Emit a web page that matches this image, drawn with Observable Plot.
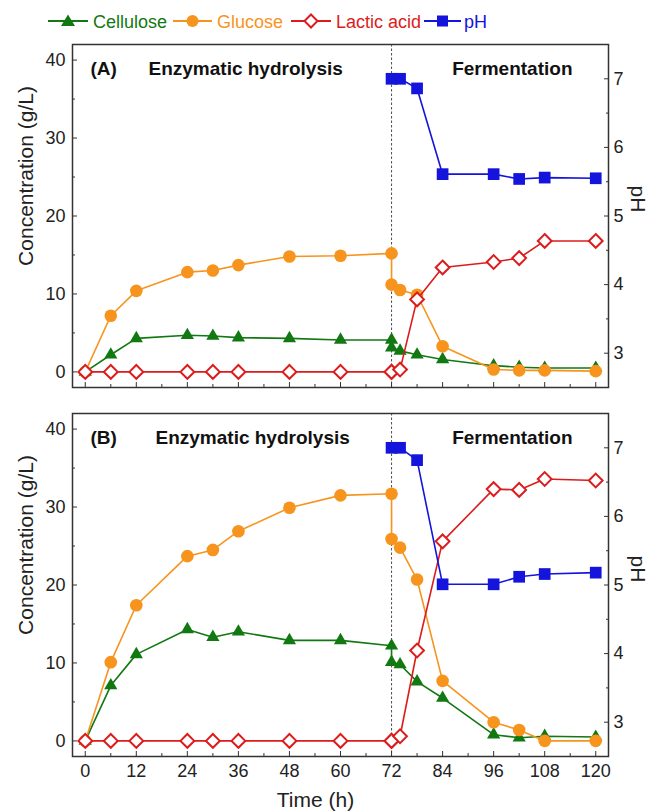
<!DOCTYPE html>
<html><head><meta charset="utf-8">
<script src="https://cdn.jsdelivr.net/npm/d3@7"></script>
<script src="https://cdn.jsdelivr.net/npm/@observablehq/plot@0.6"></script>
<style>
body{margin:0;background:#fff;font-family:"Liberation Sans",Arial,sans-serif;}
#wrap{position:relative;width:652px;height:812px;overflow:hidden;}
#legend{width:652px;height:36px;}
#pa,#pb{line-height:0;}
</style></head><body>
<div id="wrap"><div id="legend"></div><div id="pa"></div><div id="pb"></div></div>
<script>
// ---- data ----
const time = [0, 6, 12, 24, 30, 36, 48, 60, 72, 72, 74, 78, 84, 96, 102, 108, 120];
const phTime = [72, 74, 78, 84, 96, 102, 108, 120];

const cellA = [0, 2.2, 4.3, 4.7, 4.6, 4.4, 4.3, 4.1, 4.1, 3.1, 2.7, 2.2, 1.6, 0.8, 0.6, 0.5, 0.5];
const glucA = [0, 7.2, 10.4, 12.8, 13.0, 13.7, 14.8, 14.9, 15.2, 11.2, 10.5, 9.9, 3.3, 0.3, 0.2, 0.2, 0.1];
const lactA = [0, 0, 0, 0, 0, 0, 0, 0, 0, 0, 0.3, 9.3, 13.4, 14.1, 14.6, 16.8, 16.8];
const phA = [7.0, 7.0, 6.86, 5.61, 5.61, 5.54, 5.56, 5.55];

const cellB = [0, 7.1, 11.1, 14.3, 13.3, 14.0, 12.9, 12.9, 12.2, 10.1, 9.8, 7.6, 5.5, 0.8, 0.4, 0.6, 0.5];
const glucB = [0, 10.1, 17.4, 23.7, 24.5, 26.9, 29.9, 31.5, 31.7, 25.9, 24.8, 20.7, 7.7, 2.4, 1.4, 0, 0];
const lactB = [0, 0, 0, 0, 0, 0, 0, 0, 0, 0, 0.6, 11.6, 25.6, 32.3, 32.2, 33.6, 33.4];
const phB = [7.0, 7.0, 6.82, 5.01, 5.01, 5.12, 5.16, 5.18];

const seriesNames = ["Cellulose", "Glucose", "Lactic acid", "pH"];
const seriesColors = ["#127812", "#f7941d", "#dc1c1c", "#1414dc"];

const xTicks = [0, 12, 24, 36, 48, 60, 72, 84, 96, 108, 120];
const xMinor = [6, 18, 30, 42, 54, 66, 78, 90, 102, 114];
const yTicks = [0, 10, 20, 30, 40];
const yMinor = [5, 15, 25, 35];
const phTicks = [3, 4, 5, 6, 7];
const phMinor = [3.5, 4.5, 5.5, 6.5];
const phaseBoundary = [72];

// ---- scales ----
const xDomain = [-3, 123];
const yDomain = [-2, 42];
const phDomain = [2.5, 7.5];
const toY = p => (p - phDomain[0]) / (phDomain[1] - phDomain[0]) * (yDomain[1] - yDomain[0]) + yDomain[0];
const fromY = y => (y - yDomain[0]) / (yDomain[1] - yDomain[0]) * (phDomain[1] - phDomain[0]) + phDomain[0];

const FONT = '"Liberation Sans", Arial, sans-serif';

// ---- legend ----
(function legend() {
  const items = [
    {x0: 48, x1: 88, tx: 93, sym: "tri"},
    {x0: 173, x1: 212, tx: 217, sym: "circ"},
    {x0: 291, x1: 331, tx: 336, sym: "dia"},
    {x0: 424, x1: 461, tx: 464, sym: "sq"}
  ];
  const cy = 21;
  let s = `<svg width="652" height="36" xmlns="http://www.w3.org/2000/svg" style="font-family:${FONT}">`;
  items.forEach((it, i) => {
    const c = seriesColors[i], cx = (it.x0 + it.x1) / 2;
    s += `<line x1="${it.x0}" x2="${it.x1}" y1="${cy}" y2="${cy}" stroke="${c}" stroke-width="1.8"/>`;
    if (it.sym === "tri") s += `<path d="M${cx},${cy-6.5}L${cx+7},${cy+5}L${cx-7},${cy+5}Z" fill="${c}"/>`;
    if (it.sym === "circ") s += `<circle cx="${cx}" cy="${cy}" r="6" fill="${c}"/>`;
    if (it.sym === "dia") s += `<path d="M${cx},${cy-6.5}L${cx+6.5},${cy}L${cx},${cy+6.5}L${cx-6.5},${cy}Z" fill="#fff" stroke="${c}" stroke-width="2"/>`;
    if (it.sym === "sq") s += `<rect x="${cx-5.5}" y="${cy-5.5}" width="11" height="11" fill="${c}"/>`;
    s += `<text x="${it.tx}" y="${cy + 6.5}" font-size="18" fill="${c}">${seriesNames[i]}</text>`;
  });
  s += `</svg>`;
  document.getElementById("legend").innerHTML = s;
})();

// ---- panels ----
function panel(o) {
  const rows = vals => time.map((t, i) => ({t, v: vals[i]}));
  const phRows = phTime.map((t, i) => ({t, v: toY(o.ph[i])}));
  const cell = rows(o.cell), gluc = rows(o.gluc), lact = rows(o.lact);
  const [cG, cO, cR, cB] = seriesColors;
  const bold = {fontWeight: "bold", fontSize: 19, lineAnchor: "bottom", fill: "#111"};
  const marks = [
    Plot.ruleX(phaseBoundary, {stroke: "#222", strokeWidth: 0.8, strokeDasharray: "2.5,2"}),
    Plot.line(cell, {x: "t", y: "v", stroke: cG, strokeWidth: 1.6}),
    Plot.dot(cell, {x: "t", y: "v", symbol: "triangle", r: 4.9, fill: cG}),
    Plot.line(gluc, {x: "t", y: "v", stroke: cO, strokeWidth: 1.6}),
    Plot.dot(gluc, {x: "t", y: "v", symbol: "circle", r: 6.3, fill: cO}),
    Plot.line(lact, {x: "t", y: "v", stroke: cR, strokeWidth: 1.6}),
    Plot.dot(lact, {x: "t", y: "v", symbol: "diamond2", r: 6.2, fill: "#fff", stroke: cR, strokeWidth: 2}),
    Plot.line(phRows, {x: "t", y: "v", stroke: cB, strokeWidth: 1.6}),
    Plot.dot(phRows, {x: "t", y: "v", symbol: "square", r: 6.6, fill: cB}),
    Plot.frame({stroke: "#333", strokeWidth: 1.5}),
    // left axis
    Plot.axisY(yTicks, {anchor: "left", tickSize: -5, tickPadding: 12, label: null, stroke: "#333", fill: "#222"}),
    Plot.axisY(yMinor, {anchor: "left", tickSize: -3, tickFormat: () => "", label: null, stroke: "#333"}),
    // right pH axis
    Plot.axisY(phTicks.map(toY), {anchor: "right", tickSize: -5, tickPadding: 10, label: null, stroke: "#333", fill: "#222",
      tickFormat: d => String(Math.round(fromY(d)))}),
    Plot.axisY(phMinor.map(toY), {anchor: "right", tickSize: -3, tickFormat: () => "", label: null, stroke: "#333"}),
    // bottom axis
    Plot.axisX(xTicks, {anchor: "bottom", tickSize: -5, tickPadding: 13, label: null, stroke: "#333", fill: "#222",
      tickFormat: o.xLabels ? (d => String(d)) : (() => "")}),
    Plot.axisX(xMinor, {anchor: "bottom", tickSize: -3, tickFormat: () => "", label: null, stroke: "#333"}),
    // annotations
    Plot.text([o.tag], {frameAnchor: "top-left", dx: 18, dy: 30, textAnchor: "start", ...bold}),
    Plot.text(["Enzymatic hydrolysis"], {frameAnchor: "top-left", dx: o.ehDx, dy: 30, textAnchor: "start", ...bold}),
    Plot.text(["Fermentation"], {frameAnchor: "top-right", dx: -36, dy: 30, textAnchor: "end", ...bold}),
    // axis titles
    Plot.text(["Concentration (g/L)"], {frameAnchor: "left", rotate: -90, dx: -46, dy: o.ylabDy, fontSize: 21, textAnchor: "middle", lineAnchor: "middle", fill: "#222"}),
    Plot.text(["pH"], {frameAnchor: "right", rotate: 90, dx: 29, dy: o.phDy, fontSize: 21, textAnchor: "middle", lineAnchor: "middle", fill: "#222"})
  ];
  if (o.xLabels) {
    marks.push(Plot.text(["Time (h)"], {frameAnchor: "bottom", dx: -25, dy: 44, fontSize: 21, textAnchor: "middle", lineAnchor: "middle", fill: "#222"}));
  }
  return Plot.plot({
    width: 652, height: o.height,
    marginLeft: 72, marginRight: 44, marginTop: o.mt, marginBottom: o.mb,
    x: {domain: xDomain},
    y: {domain: yDomain},
    style: {fontFamily: FONT, fontSize: "18px", background: "#fff", color: "#222", overflow: "visible"},
    marks
  });
}

document.getElementById("pa").append(panel({
  height: 364, mt: 8, mb: 13, tag: "(A)", ehDx: 76, ylabDy: -40, phDy: -17,
  cell: cellA, gluc: glucA, lact: lactA, ph: phA, xLabels: false
}));
document.getElementById("pb").append(panel({
  height: 412, mt: 13, mb: 56, tag: "(B)", ehDx: 83, ylabDy: -40, phDy: -16,
  cell: cellB, gluc: glucB, lact: lactB, ph: phB, xLabels: true
}));
</script>
</body></html>
